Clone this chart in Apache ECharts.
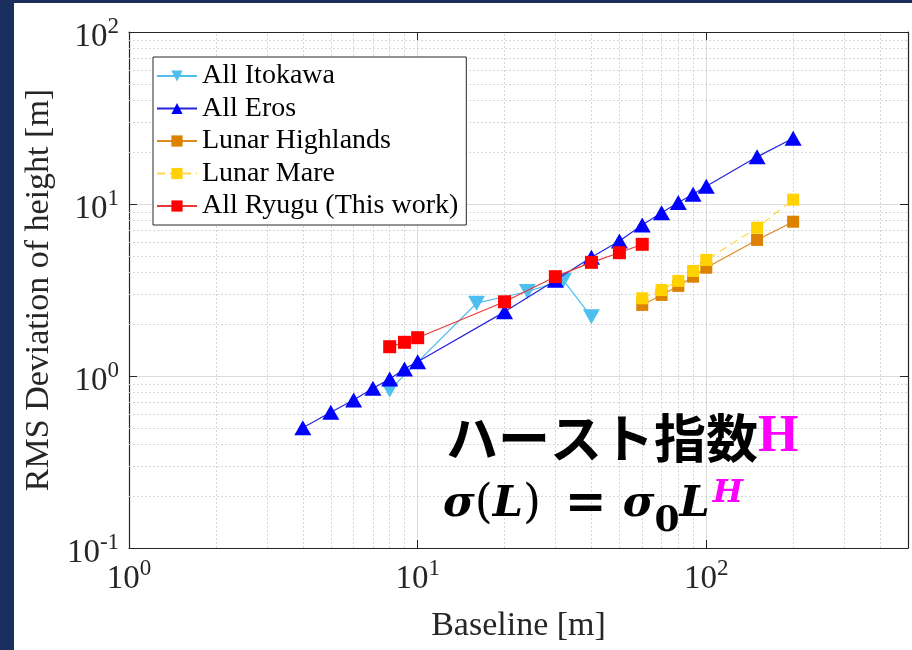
<!DOCTYPE html>
<html>
<head>
<meta charset="utf-8">
<script src="https://cdn.jsdelivr.net/npm/echarts@6/dist/echarts.min.js"></script>
<style>
  html, body { margin: 0; padding: 0; background: #1b2f5e; }
  #chart { position: absolute; left: 14px; top: 3px; width: 898px; height: 647px; background: #fff; }
</style>
</head>
<body>
<div id="chart"></div>
<script>
// data (baseline [m] vs RMS deviation of height [m])
var itokawaX = [8, 16, 24, 32, 40];
var itokawaY = [0.83, 2.65, 3.1, 3.6, 2.21];
var erosX = [4, 5, 6, 7, 8, 9, 10, 20, 30, 40, 50, 60, 70, 80, 90, 100, 150, 200];
var erosY = [0.5, 0.615, 0.725, 0.848, 0.96, 1.1, 1.21, 2.36, 3.6, 4.9, 6.1, 7.55, 8.9, 10.2, 11.4, 12.7, 18.8, 24.1];
var lunarX = [60, 70, 80, 90, 100, 150, 200];
var highlandsY = [2.59, 2.96, 3.34, 3.78, 4.26, 6.18, 7.89];
var mareY = [2.83, 3.16, 3.57, 4.08, 4.73, 7.28, 10.6];
var ryuguX = [8, 9, 10, 20, 30, 40, 50, 60];
var ryuguY = [1.48, 1.57, 1.67, 2.7, 3.78, 4.58, 5.21, 5.83];

var seriesNames = ['All Itokawa', 'All Eros', 'Lunar Highlands', 'Lunar Mare', 'All Ryugu (This work)'];

// minor grid positions (log axes)
var xMinorTicks = [2, 3, 4, 5, 6, 7, 8, 9, 20, 30, 40, 50, 60, 70, 80, 90, 200, 300, 400];
var yMinorTicks = [0.2, 0.3, 0.4, 0.5, 0.6, 0.7, 0.8, 0.9, 2, 3, 4, 5, 6, 7, 8, 9, 20, 30, 40, 50, 60, 70, 80, 90];

function pairs(xs, ys) {
    return xs.map(function (x, i) { return [x, ys[i]]; });
}

var chartDom = document.getElementById('chart');
var myChart = echarts.init(chartDom);

var serif = 'Liberation Serif';
var mathFont = 'DejaVu Serif';
var frameColor = '#262626';

function powLabel(v) {
    var e = Math.log10(v);
    if (Math.abs(e - Math.round(e)) > 1e-6) return '';
    return '{b|10}{s|' + Math.round(e) + '}';
}

var tickRich = {
    b: { fontFamily: serif, fontSize: 33, color: '#262626', lineHeight: 34, padding: [10, 0, 0, 0] },
    s: { fontFamily: serif, fontSize: 23, color: '#262626', lineHeight: 26, verticalAlign: 'top' }
};

var minorLine = { color: '#d6d6d6', width: 1, type: [2, 2] };

option = {
    animation: false,
    grid: {
        left: 111,
        top: 29,
        right: 4,
        bottom: 102,
        containLabel: false
    },
    legend: {
        data: seriesNames,
        orient: 'vertical',
        left: 139,
        top: 54,
        padding: [4, 8, 4, 3],
        itemGap: 2.5,
        itemWidth: 40,
        itemHeight: 14,
        backgroundColor: '#fff',
        borderColor: frameColor,
        borderWidth: 1,
        borderRadius: 0,
        textStyle: {
            fontFamily: serif,
            fontSize: 28,
            lineHeight: 30,
            color: '#000'
        }
    },
    xAxis: [{
        type: 'log',
        logBase: 10,
        min: 1,
        max: 500,
        name: 'Baseline [m]',
        nameLocation: 'middle',
        nameGap: 61,
        nameTextStyle: { fontFamily: serif, fontSize: 34, color: '#262626' },
        axisLine: { show: true, lineStyle: { color: frameColor, width: 1.2 } },
        axisTick: { show: true, inside: true, length: 8, lineStyle: { color: frameColor } },
        axisLabel: { margin: 9, formatter: powLabel, rich: tickRich },
        splitLine: { show: true, lineStyle: { color: '#dcdcdc', width: 1 } }
    }, {
        type: 'log',
        logBase: 10,
        min: 1,
        max: 500,
        position: 'top',
        axisLine: { show: true, lineStyle: { color: frameColor, width: 1.2 } },
        axisTick: { show: true, inside: true, length: 8, lineStyle: { color: frameColor } },
        axisLabel: { show: false },
        splitLine: { show: false }
    }],
    yAxis: [{
        type: 'log',
        logBase: 10,
        min: 0.1,
        max: 100,
        name: 'RMS Deviation of height [m]',
        nameLocation: 'middle',
        nameGap: 58,
        nameTextStyle: { fontFamily: serif, fontSize: 34, color: '#262626' },
        axisLine: { show: true, lineStyle: { color: frameColor, width: 1.2 } },
        axisTick: { show: true, inside: true, length: 8, lineStyle: { color: frameColor } },
        axisLabel: { margin: 10, formatter: powLabel, rich: tickRich },
        splitLine: { show: true, lineStyle: { color: '#dcdcdc', width: 1 } }
    }, {
        type: 'log',
        logBase: 10,
        min: 0.1,
        max: 100,
        position: 'right',
        axisLine: { show: true, lineStyle: { color: frameColor, width: 1.2 } },
        axisTick: { show: true, inside: true, length: 8, lineStyle: { color: frameColor } },
        axisLabel: { show: false },
        splitLine: { show: false }
    }],
    graphic: [{
        type: 'text',
        left: 432,
        top: 409,
        z: 10,
        style: {
            text: '{jp|ハースト指数}{h|H}',
            rich: {
                jp: { fontFamily: 'Noto Sans CJK JP', fontWeight: 'bold', fontSize: 52, fill: '#000', lineHeight: 56 },
                h: { fontFamily: serif, fontWeight: 'bold', fontSize: 52, fill: '#ff00ff', lineHeight: 56 }
            }
        }
    }, {
        type: 'text',
        left: 429,
        top: 467,
        z: 10,
        style: {
            text: '{m|σ}{p|(}{m|L}{p|)}{eq|=}{m|σ}{sub|0}{m|L}{sup|H}',
            rich: {
                m: { fontFamily: mathFont, fontWeight: 'bold', fontStyle: 'italic', fontSize: 43, fill: '#000', lineHeight: 70 },
                p: { fontFamily: mathFont, fontSize: 46, fill: '#000', lineHeight: 70 },
                eq: { fontFamily: mathFont, fontWeight: 'bold', fontSize: 50, fill: '#000', lineHeight: 70, padding: [0, 16, 0, 24] },
                sub: { fontFamily: mathFont, fontWeight: 'bold', fontSize: 36, fill: '#000', lineHeight: 41, verticalAlign: 'bottom' },
                sup: { fontFamily: mathFont, fontWeight: 'bold', fontStyle: 'italic', fontSize: 32, fill: '#ff00ff', lineHeight: 34, verticalAlign: 'top', padding: [8, 0, 0, 3] }
            }
        }
    }],
    series: [{
        // minor dotted grid, placed through the axes' own scales
        name: 'grid',
        type: 'line',
        data: [],
        z: 1,
        silent: true,
        markLine: {
            z: 1,
            silent: true,
            symbol: ['none', 'none'],
            label: { show: false },
            lineStyle: minorLine,
            emphasis: { disabled: true },
            data: xMinorTicks.map(function (v) { return { xAxis: v }; })
                .concat(yMinorTicks.map(function (v) { return { yAxis: v }; }))
        }
    }, {
        name: 'All Itokawa',
        type: 'line',
        data: pairs(itokawaX, itokawaY),
        z: 6,
        symbol: 'triangle',
        symbolRotate: 180,
        symbolSize: [17, 15],
        itemStyle: { color: '#4dbeee' },
        lineStyle: { color: '#4dbeee', width: 1.2 }
    }, {
        name: 'All Eros',
        type: 'line',
        data: pairs(erosX, erosY),
        z: 7,
        symbol: 'triangle',
        symbolSize: [17, 15],
        itemStyle: { color: '#0000ff' },
        lineStyle: { color: '#2424dd', width: 1.2 }
    }, {
        name: 'Lunar Highlands',
        type: 'line',
        data: pairs(lunarX, highlandsY),
        z: 8,
        symbol: 'rect',
        symbolSize: 12,
        itemStyle: { color: '#dd8200' },
        lineStyle: { color: '#dd8a1e', width: 1.2 }
    }, {
        name: 'Lunar Mare',
        type: 'line',
        data: pairs(lunarX, mareY),
        z: 9,
        symbol: 'rect',
        symbolSize: 12,
        itemStyle: { color: '#ffd200' },
        lineStyle: { color: '#ffd84a', width: 1.2, type: [8, 5] }
    }, {
        name: 'All Ryugu (This work)',
        type: 'line',
        data: pairs(ryuguX, ryuguY),
        z: 10,
        symbol: 'rect',
        symbolSize: 13,
        itemStyle: { color: '#ff0000' },
        lineStyle: { color: '#e83a3a', width: 1.2 }
    }]
};

option && myChart.setOption(option);
new ResizeObserver(() => myChart.resize()).observe(chartDom);
</script>
</body>
</html>
